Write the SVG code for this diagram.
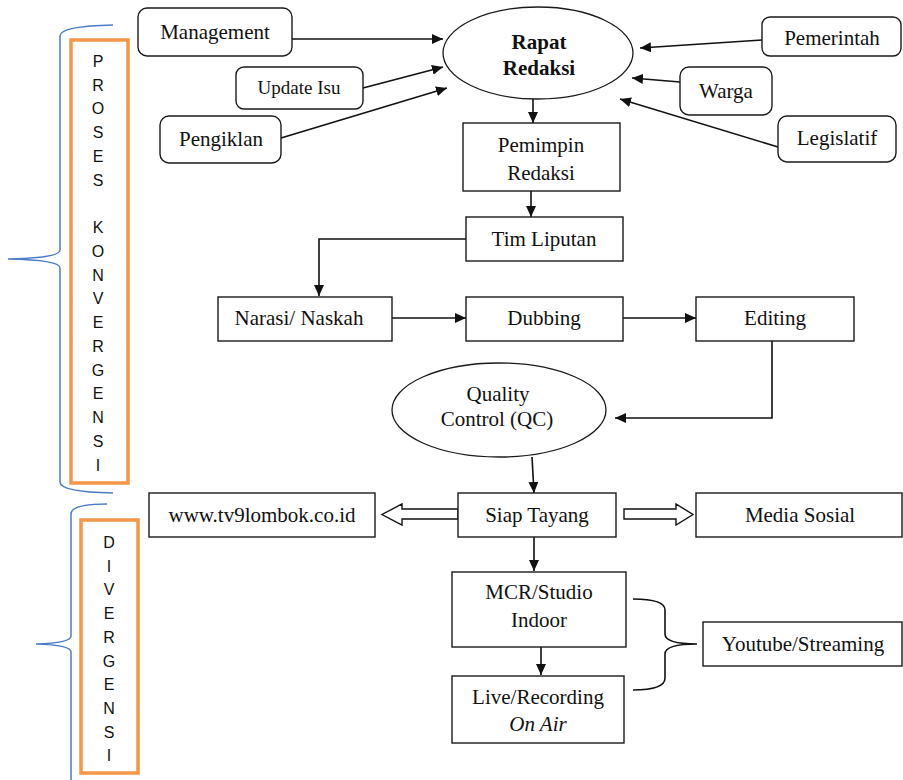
<svg xmlns="http://www.w3.org/2000/svg" width="903" height="780" viewBox="0 0 903 780">
<defs>
<style>
.box{fill:#fff;stroke:#1a1a1a;stroke-width:1.4}
.ell{fill:#fff;stroke:#1a1a1a;stroke-width:1.3}
.t{font-family:"Liberation Serif","Times New Roman",serif;font-size:21px;fill:#111;text-anchor:middle}
.v{font-family:"Liberation Sans",Arial,sans-serif;font-size:16px;fill:#111;text-anchor:middle}
.c{fill:none;stroke:#111;stroke-width:1.6}
.blue{fill:none;stroke:#4a7cc7;stroke-width:1.5}
.org{fill:none;stroke:#f79646;stroke-width:3.5}
.hollow{fill:#fff;stroke:#111;stroke-width:1.4;stroke-linejoin:miter}
</style>
<marker id="ah" markerUnits="userSpaceOnUse" markerWidth="12" markerHeight="10" refX="11" refY="5" orient="auto" viewBox="0 0 12 10">
<path d="M0,0 L11,5 L0,10 z" fill="#111"/>
</marker>
</defs>

<g id="brackets">
<path class="blue" d="M113,25 Q60,26 60,36 V250 Q60,258 8,259 Q60,260 60,268 V482 Q60,492 113,493"/>
<rect class="org" x="71" y="40" width="57" height="443"/>
<path class="blue" d="M107,504 Q71,504 71,514 V636 Q71,643 36,644 Q71,645 71,652 V780"/>
<rect class="org" x="81" y="520" width="57" height="253"/>
</g>

<g id="label-konvergensi">
<text class="v" x="98" y="67">P</text>
<text class="v" x="98" y="91">R</text>
<text class="v" x="98" y="114">O</text>
<text class="v" x="98" y="138">S</text>
<text class="v" x="98" y="162">E</text>
<text class="v" x="98" y="186">S</text>
<text class="v" x="98" y="233">K</text>
<text class="v" x="98" y="257">O</text>
<text class="v" x="98" y="281">N</text>
<text class="v" x="98" y="304">V</text>
<text class="v" x="98" y="328">E</text>
<text class="v" x="98" y="352">R</text>
<text class="v" x="98" y="376">G</text>
<text class="v" x="98" y="399">E</text>
<text class="v" x="98" y="423">N</text>
<text class="v" x="98" y="447">S</text>
<text class="v" x="98" y="471">I</text>
</g>

<g id="label-divergensi">
<text class="v" x="109" y="548">D</text>
<text class="v" x="109" y="572">I</text>
<text class="v" x="109" y="595">V</text>
<text class="v" x="109" y="619">E</text>
<text class="v" x="109" y="643">R</text>
<text class="v" x="109" y="667">G</text>
<text class="v" x="109" y="690">E</text>
<text class="v" x="109" y="714">N</text>
<text class="v" x="109" y="738">S</text>
<text class="v" x="109" y="761">I</text>
</g>

<g id="connectors">
<line class="c" x1="292" y1="39" x2="443" y2="39" marker-end="url(#ah)"/>
<line class="c" x1="363" y1="88" x2="443" y2="67" marker-end="url(#ah)"/>
<line class="c" x1="281" y1="138" x2="447" y2="88" marker-end="url(#ah)"/>
<line class="c" x1="762" y1="40" x2="640" y2="48" marker-end="url(#ah)"/>
<line class="c" x1="680" y1="82" x2="632" y2="78" marker-end="url(#ah)"/>
<line class="c" x1="778" y1="147" x2="620" y2="99" marker-end="url(#ah)"/>
<line class="c" x1="533" y1="99" x2="533" y2="123" marker-end="url(#ah)"/>
<line class="c" x1="531" y1="191" x2="531" y2="217" marker-end="url(#ah)"/>
<path class="c" d="M466,239 H319 V296" marker-end="url(#ah)"/>
<line class="c" x1="392" y1="318" x2="466" y2="318" marker-end="url(#ah)"/>
<line class="c" x1="623" y1="318" x2="696" y2="318" marker-end="url(#ah)"/>
<path class="c" d="M772,341 V418 H615" marker-end="url(#ah)"/>
<line class="c" x1="532" y1="457" x2="534" y2="493" marker-end="url(#ah)"/>
<polygon class="hollow" points="458,509 402,509 402,504 382,514.5 402,525 402,519 458,519"/>
<polygon class="hollow" points="624,509 676,509 676,504 693,514.5 676,525 676,519 624,519"/>
<line class="c" x1="534" y1="537" x2="534" y2="571" marker-end="url(#ah)"/>
<line class="c" x1="541" y1="647" x2="541" y2="675" marker-end="url(#ah)"/>
<path class="c" d="M633,599 Q665,599 665,610 V634 Q665,644 697,644 Q665,644 665,654 V678 Q665,690 633,690"/>
</g>

<g id="management"><rect class="box" x="138" y="8" width="154" height="48" rx="9"/><text class="t" x="215" y="39">Management</text></g>
<g id="update-isu"><rect class="box" x="236" y="67" width="127" height="42" rx="8"/><text class="t" style="font-size:19px" x="299" y="94">Update Isu</text></g>
<g id="pengiklan"><rect class="box" x="160" y="116" width="121" height="47" rx="9"/><text class="t" x="221" y="146">Pengiklan</text></g>
<g id="rapat-redaksi"><ellipse class="ell" cx="538" cy="53" rx="95" ry="46"/><text class="t" style="font-weight:bold" x="539" y="49">Rapat</text><text class="t" style="font-weight:bold" x="539" y="75">Redaksi</text></g>
<g id="pemerintah"><rect class="box" x="762" y="17" width="139" height="39" rx="8"/><text class="t" x="832" y="45">Pemerintah</text></g>
<g id="warga"><rect class="box" x="680" y="67" width="92" height="48" rx="9"/><text class="t" x="726" y="98">Warga</text></g>
<g id="legislatif"><rect class="box" x="778" y="116" width="118" height="46" rx="9"/><text class="t" x="837" y="145">Legislatif</text></g>
<g id="pemimpin-redaksi"><rect class="box" x="463" y="123" width="157" height="68"/><text class="t" x="541" y="152">Pemimpin</text><text class="t" x="541" y="180">Redaksi</text></g>
<g id="tim-liputan"><rect class="box" x="466" y="217" width="157" height="44"/><text class="t" x="544" y="246">Tim Liputan</text></g>
<g id="narasi"><rect class="box" x="218" y="297" width="174" height="44"/><text class="t" x="299" y="325">Narasi/ Naskah</text></g>
<g id="dubbing"><rect class="box" x="466" y="297" width="157" height="44"/><text class="t" x="544" y="325">Dubbing</text></g>
<g id="editing"><rect class="box" x="696" y="297" width="158" height="44"/><text class="t" x="775" y="325">Editing</text></g>
<g id="qc"><ellipse class="ell" cx="499" cy="410" rx="107" ry="47"/><text class="t" x="498" y="401">Quality</text><text class="t" x="497" y="426">Control (QC)</text></g>
<g id="www"><rect class="box" x="149" y="493" width="226" height="44"/><text class="t" x="262" y="522">www.tv9lombok.co.id</text></g>
<g id="siap-tayang"><rect class="box" x="458" y="493" width="158" height="44"/><text class="t" x="537" y="522">Siap Tayang</text></g>
<g id="media-sosial"><rect class="box" x="696" y="493" width="206" height="44"/><text class="t" x="800" y="522">Media Sosial</text></g>
<g id="mcr"><rect class="box" x="452" y="572" width="174" height="75"/><text class="t" x="539" y="599">MCR/Studio</text><text class="t" x="539" y="627">Indoor</text></g>
<g id="live"><rect class="box" x="452" y="676" width="172" height="67"/><text class="t" x="538" y="704">Live/Recording</text><text class="t" style="font-style:italic" x="538" y="731">On Air</text></g>
<g id="youtube"><rect class="box" x="703" y="622" width="199" height="44"/><text class="t" x="803" y="651">Youtube/Streaming</text></g>
</svg>
